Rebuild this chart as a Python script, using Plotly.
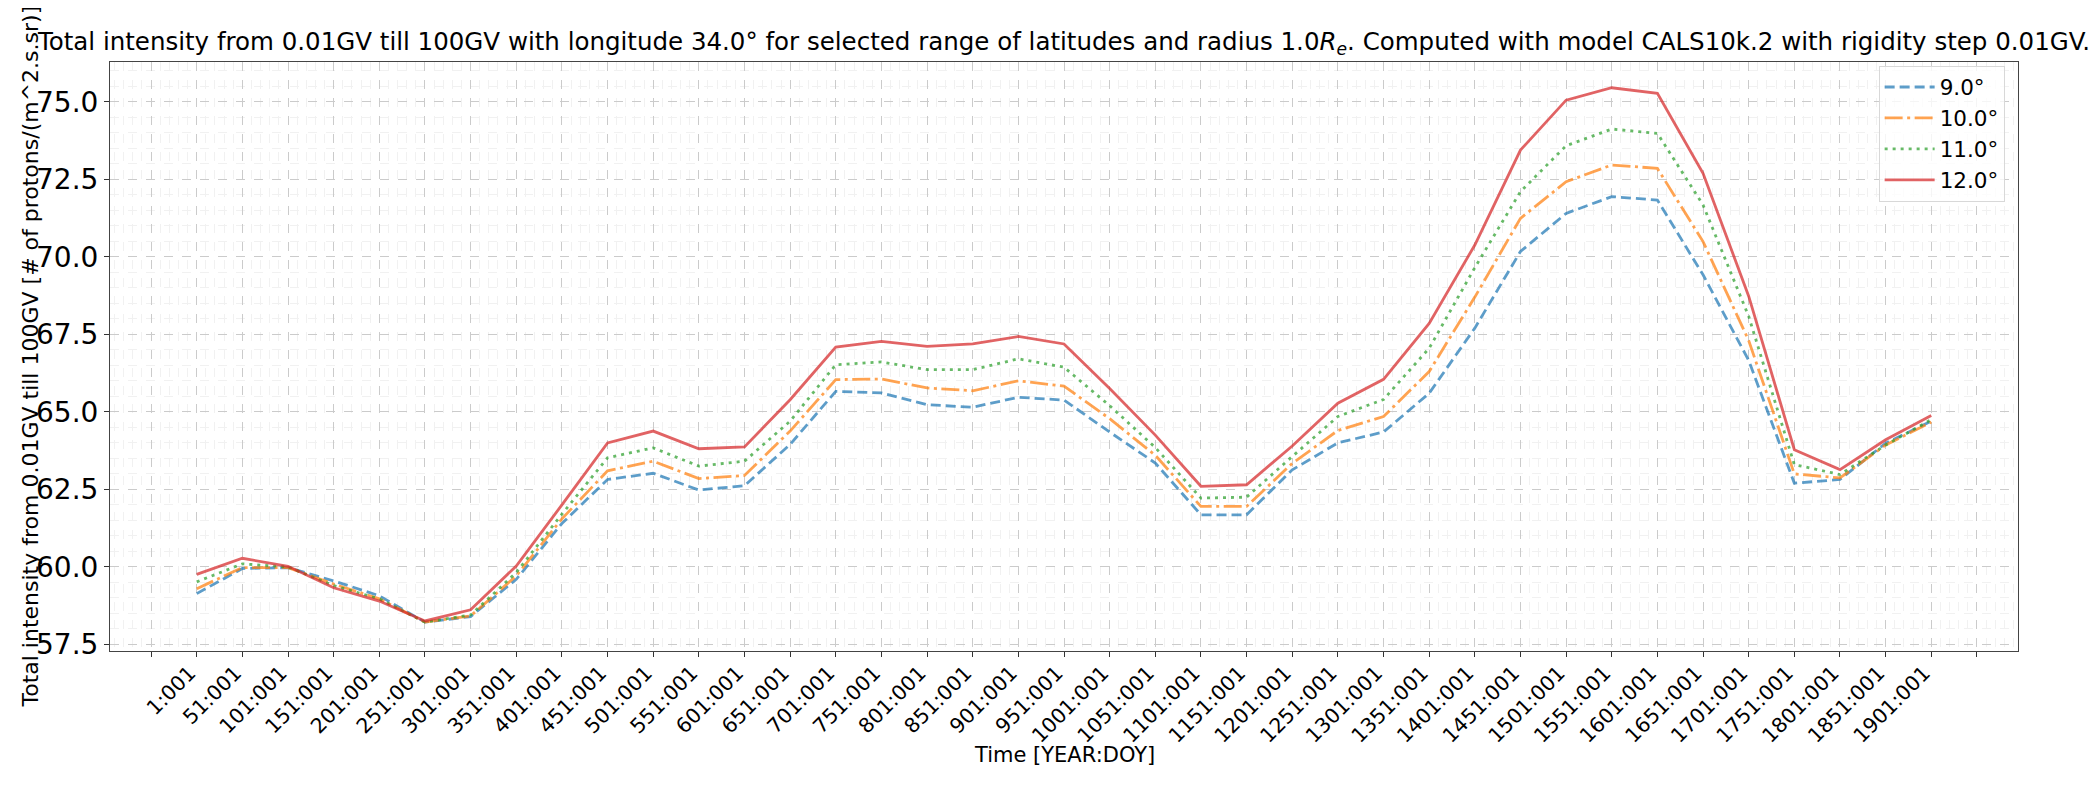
import plotly.graph_objects as go

# ---- data ----
days = [1, 51, 101, 151, 201, 251, 301, 351, 401, 451, 501, 551, 601, 651, 701, 751, 801,
        851, 901, 951, 1001, 1051, 1101, 1151, 1201, 1251, 1301, 1351, 1401, 1451, 1501,
        1551, 1601, 1651, 1701, 1751, 1801, 1851, 1901]

lat_9 = [59.14, 59.95, 59.98, 59.55, 59.07, 58.22, 58.40, 59.60, 61.40, 62.82, 63.02, 62.48,
         62.62, 63.95, 65.66, 65.61, 65.23, 65.15, 65.47, 65.38, 64.35, 63.35, 61.68, 61.68,
         63.13, 64.00, 64.35, 65.60, 67.70, 70.17, 71.40, 71.94, 71.83, 69.42, 66.66, 62.70,
         62.82, 63.99, 64.70]
lat_10 = [59.30, 59.98, 59.98, 59.45, 58.97, 58.22, 58.42, 59.71, 61.55, 63.10, 63.41, 62.85,
          62.95, 64.38, 66.04, 66.06, 65.77, 65.68, 66.00, 65.83, 64.78, 63.60, 61.95, 61.95,
          63.34, 64.40, 64.85, 66.30, 68.70, 71.24, 72.42, 72.96, 72.85, 70.49, 67.30, 63.00,
          62.87, 63.93, 64.67]
lat_11 = [59.52, 60.10, 60.00, 59.40, 58.97, 58.22, 58.45, 59.82, 61.70, 63.52, 63.84, 63.25,
          63.41, 64.70, 66.52, 66.61, 66.36, 66.36, 66.71, 66.44, 65.20, 63.85, 62.22, 62.25,
          63.56, 64.85, 65.40, 67.05, 69.65, 72.10, 73.58, 74.12, 73.98, 71.67, 68.08, 63.30,
          62.98, 63.93, 64.75]
lat_12 = [59.76, 60.28, 60.02, 59.33, 58.90, 58.26, 58.62, 60.03, 62.00, 64.00, 64.38, 63.81,
          63.87, 65.39, 67.09, 67.27, 67.11, 67.19, 67.43, 67.19, 65.75, 64.25, 62.60, 62.65,
          63.90, 65.28, 66.05, 67.85, 70.38, 73.44, 75.05, 75.45, 75.27, 72.69, 68.73, 63.78,
          63.14, 64.10, 64.88]

series_names = ["9.0°", "10.0°", "11.0°", "12.0°"]
tick_positions = [-49] + days + [1951]
tick_labels = [""] + [f"{d}:001" for d in days] + [""]
y_ticks = [57.5, 60.0, 62.5, 65.0, 67.5, 70.0, 72.5, 75.0]

colors = ["rgba(31,119,180,0.72)", "rgba(255,127,14,0.72)",
          "rgba(44,160,44,0.72)", "rgba(214,39,40,0.72)"]
dashes = ["10px,5px", "18px,4.5px,3px,4.5px", "3px,5px", "solid"]

fig = go.Figure()
for name, vals, c, d in zip(series_names, [lat_9, lat_10, lat_11, lat_12], colors, dashes):
    fig.add_trace(go.Scatter(x=days, y=vals, mode="lines", name=name,
                             line=dict(color=c, width=2.8, dash=d)))

FONT = "DejaVu Sans"
W, H = 2100, 785
L, R, T, B = 102, 90, 54, 142

fig.update_layout(
    width=W, height=H, autosize=False,
    margin=dict(l=L, r=R, t=T, b=B),
    paper_bgcolor="white", plot_bgcolor="white",
    font=dict(family=FONT, color="black"),
    title=dict(
        text="Total intensity from 0.01GV till 100GV with longitude 34.0° for selected range of "
             "latitudes and radius 1.0<i>R</i><sub><i>e</i></sub>. Computed with model CALS10k.2 "
             "with rigidity step 0.01GV.",
        x=0.5, xref="paper", xanchor="center",
        y=1 - 33 / H, yref="container", yanchor="middle",
        font=dict(size=24.5, family=FONT)),
    legend=dict(x=0.993, y=0.994, xanchor="right", yanchor="top",
                bgcolor="rgba(255,255,255,0.8)", bordercolor="#d8d8d8", borderwidth=1,
                font=dict(size=21.5, family=FONT), itemwidth=50,
                tracegroupgap=0),
    showlegend=True,
)

fig.update_xaxes(
    range=[-94, 1996], tickmode="array", tickvals=tick_positions, ticktext=tick_labels,
    tickangle=-45, tickfont=dict(size=20.5, family=FONT), ticklabelshift=-7,
    ticklabelstandoff=-4,
    ticks="outside", ticklen=5, tickcolor="#333",
    showline=True, linecolor="#444", linewidth=1, mirror=True,
    showgrid=True, gridcolor="#cbcbcb", griddash="dash", gridwidth=1,
    zeroline=False,
    minor=dict(tickmode="linear", tick0=1, dtick=10, showgrid=True,
               gridcolor="#f1f1f1", griddash="dash", gridwidth=1, ticks=""),
)
fig.update_yaxes(
    range=[57.29, 76.28], tickmode="array", tickvals=y_ticks,
    ticktext=[f"{v:.1f}" for v in y_ticks],
    tickfont=dict(size=28, family=FONT),
    ticks="outside", ticklen=5, tickcolor="#333",
    showline=True, linecolor="#444", linewidth=1, mirror=True,
    showgrid=True, gridcolor="#cbcbcb", griddash="dash", gridwidth=1,
    zeroline=False,
    minor=dict(tickmode="linear", tick0=57.5, dtick=0.5, showgrid=True,
               gridcolor="#f1f1f1", griddash="dash", gridwidth=1, ticks=""),
)

plot_h = H - T - B
plot_w = W - L - R
fig.add_annotation(text="Time [YEAR:DOY]", xref="paper", yref="paper",
                   x=0.5, y=(H - B - 747) / plot_h, xanchor="center", yanchor="middle",
                   showarrow=False, font=dict(size=21, family=FONT))
fig.add_annotation(text="Total intensity from 0.01GV till 100GV [# of protons/(m^2.s.sr)]",
                   xref="paper", yref="paper", x=(22 - L) / plot_w, y=0.5,
                   xanchor="center", yanchor="middle", textangle=-90,
                   showarrow=False, font=dict(size=22, family=FONT))

fig.write_html("out.html")
